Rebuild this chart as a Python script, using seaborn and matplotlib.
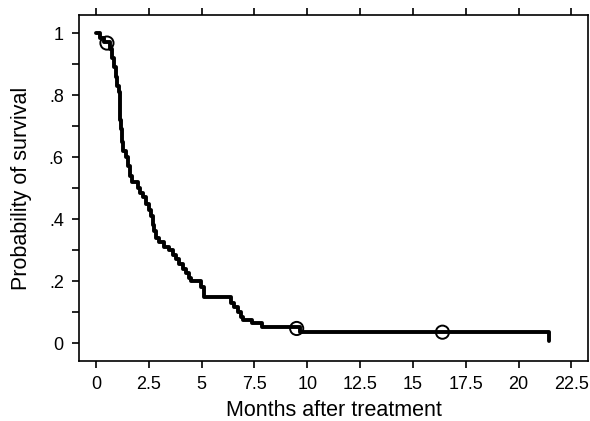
import matplotlib
matplotlib.use("Agg")
import matplotlib.pyplot as plt
import seaborn as sns
import pandas as pd
from matplotlib.ticker import MultipleLocator

# Kaplan-Meier step curve (step-post)
times = [0, 0.2, 0.4, 0.65, 0.75, 0.85, 0.95, 1.0, 1.1, 1.13, 1.16, 1.2, 1.25,
         1.3, 1.4, 1.5, 1.6, 1.7, 2.0, 2.1, 2.25, 2.35, 2.5, 2.6, 2.7, 2.75,
         2.85, 3.0, 3.2, 3.45, 3.65, 3.8, 3.95, 4.1, 4.25, 4.4, 4.5, 4.95,
         5.1, 6.4, 6.55, 6.7, 6.85, 6.95, 7.4, 7.85, 9.65, 21.45]
survival = [1.0, 0.985, 0.97, 0.95, 0.92, 0.89, 0.86, 0.83, 0.81, 0.76, 0.72,
            0.69, 0.65, 0.62, 0.60, 0.57, 0.54, 0.52, 0.50, 0.485, 0.47, 0.45,
            0.43, 0.41, 0.38, 0.36, 0.34, 0.325, 0.31, 0.30, 0.285, 0.27,
            0.255, 0.24, 0.225, 0.21, 0.20, 0.18, 0.15, 0.13, 0.115, 0.10,
            0.085, 0.075, 0.065, 0.052, 0.035, 0.005]

# censored observations
cens_times = [0.52, 9.5, 16.4]
cens_surv = [0.968, 0.047, 0.035]

xticks = [0, 2.5, 5, 7.5, 10, 12.5, 15, 17.5, 20, 22.5]
xtick_labels = ["0", "2.5", "5", "7.5", "10", "12.5", "15", "17.5", "20", "22.5"]
yticks = [0, 0.2, 0.4, 0.6, 0.8, 1.0]
ytick_labels = ["0", ".2", ".4", ".6", ".8", "1"]

sns.set_theme(style="ticks")
plt.rcParams["font.family"] = ["Liberation Sans", "DejaVu Sans"]
plt.rcParams["text.color"] = "black"
plt.rcParams["axes.labelcolor"] = "black"

fig = plt.figure(figsize=(5.9, 4.21), dpi=100)
ax = fig.add_axes([0.134, 0.1425, 0.863, 0.8215])

df = pd.DataFrame({"t": times, "s": survival})
sns.lineplot(data=df, x="t", y="s", drawstyle="steps-post", color="black",
             linewidth=2.8, ax=ax, estimator=None, sort=False)
cdf = pd.DataFrame({"t": cens_times, "s": cens_surv})
sns.scatterplot(data=cdf, x="t", y="s", ax=ax, s=90, facecolor="none",
                edgecolor="black", linewidth=1.4, zorder=5)

ax.set_xlim(-0.8, 23.3)
ax.set_ylim(-0.058, 1.058)
ax.set_xticks(xticks)
ax.set_xticklabels(xtick_labels)
ax.set_yticks(yticks)
ax.set_yticklabels(ytick_labels)
ax.yaxis.set_minor_locator(MultipleLocator(0.1))

for sp in ax.spines.values():
    sp.set_visible(True)
    sp.set_linewidth(1.2)
    sp.set_color("black")

ax.tick_params(axis="x", which="major", direction="out", length=5, width=1.2,
               top=True, bottom=True, labelsize=13, colors="black",
               labelcolor="black", pad=6)
ax.tick_params(axis="y", which="both", direction="out", length=5, width=1.2,
               left=True, right=False, labelsize=13, colors="black",
               labelcolor="black", pad=6)

ax.set_xlabel("Months after treatment", fontsize=15.5, labelpad=5, color="black")
ax.set_ylabel("Probability of survival", fontsize=15.5, labelpad=12, color="black")

fig.savefig("out.png", dpi=100)
